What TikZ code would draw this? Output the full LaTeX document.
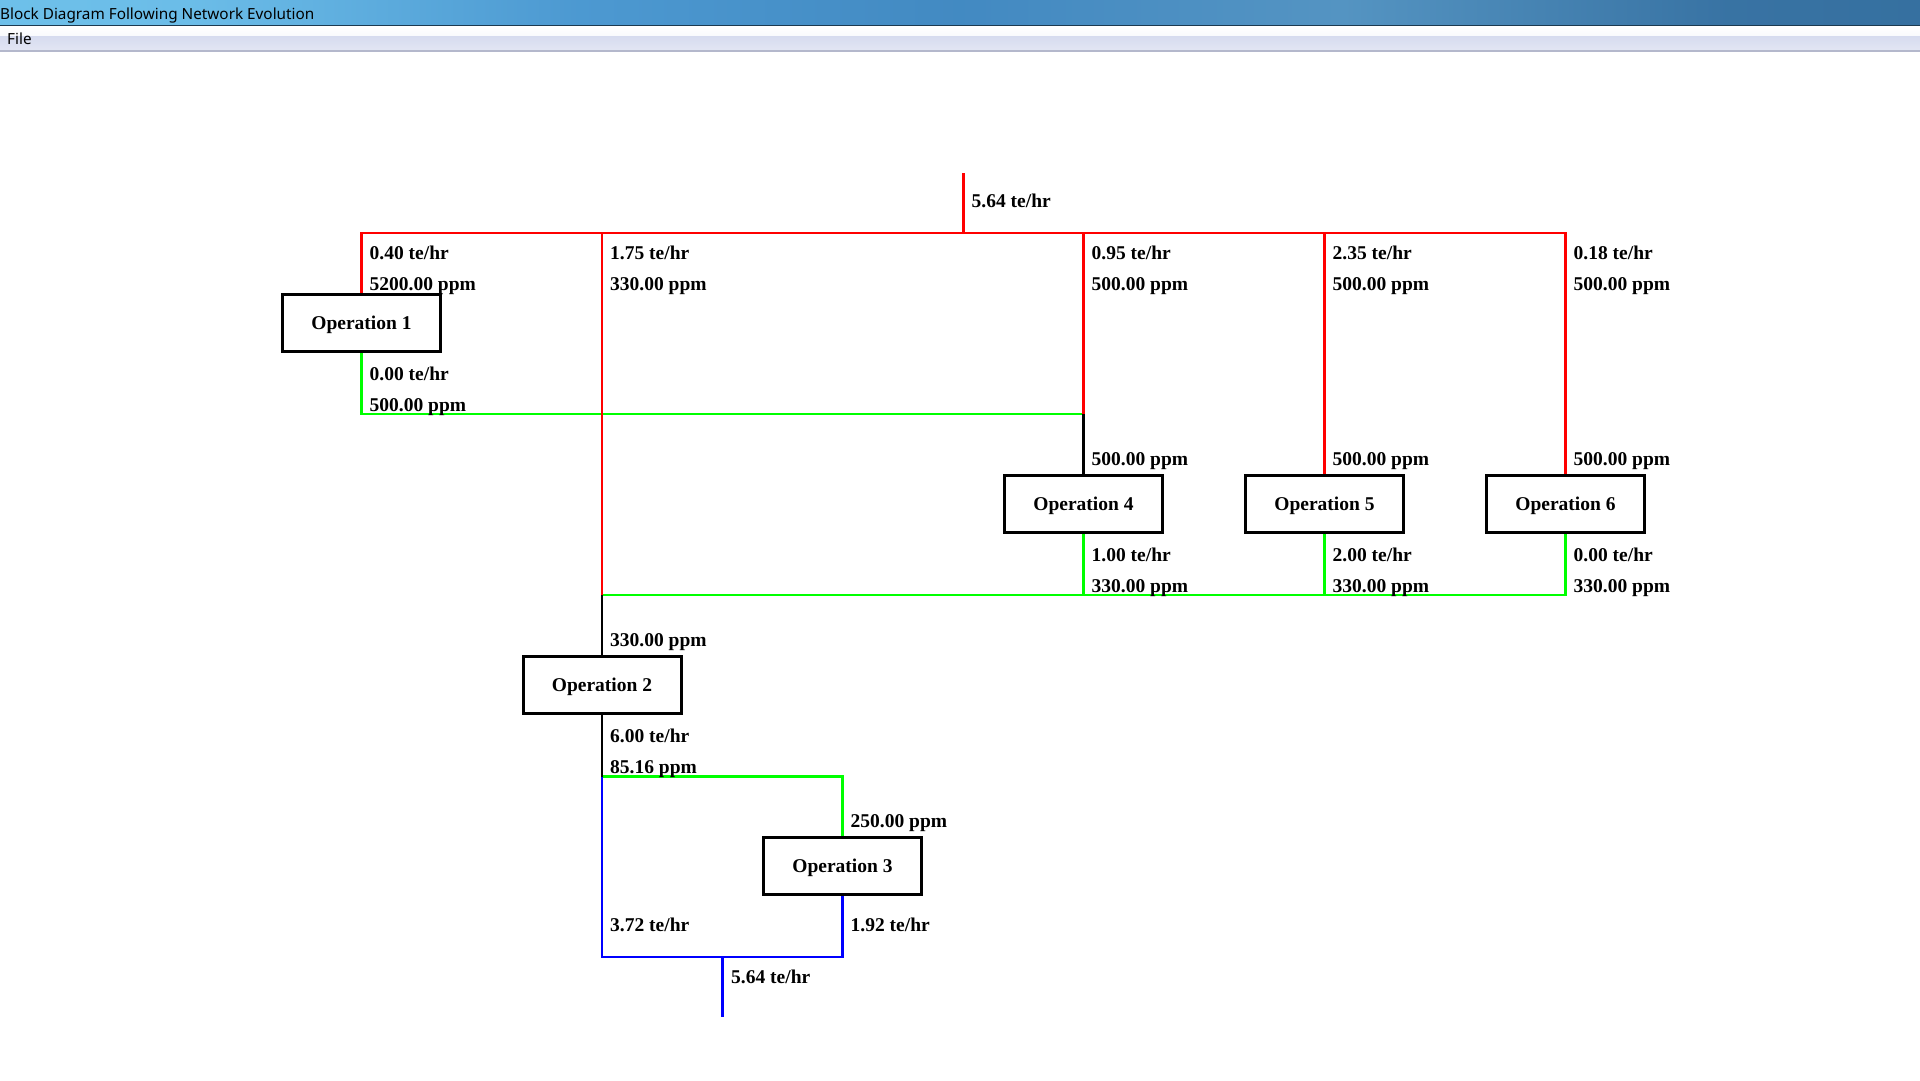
\documentclass[tikz,border=0pt]{standalone}
\usepackage{fontspec}
\setmainfont{Liberation Serif}
\newfontfamily\uifont{Noto Sans}
\pgfdeclarehorizontalshading{titlebar}{100bp}{%
  rgb(0bp)=(0.55,0.80,0.94);
  rgb(15bp)=(0.45,0.78,0.93);
  rgb(30bp)=(0.42,0.74,0.91);
  rgb(40bp)=(0.30,0.60,0.82);
  rgb(50bp)=(0.26,0.54,0.76);
  rgb(60bp)=(0.33,0.58,0.76);
  rgb(70bp)=(0.22,0.45,0.64);
  rgb(85bp)=(0.19,0.42,0.60);
  rgb(93bp)=(0.30,0.50,0.66);
  rgb(100bp)=(0.62,0.76,0.86)}
\definecolor{pgreen}{RGB}{0,255,0}
\definecolor{pred}{RGB}{255,0,0}
\definecolor{pblue}{RGB}{0,0,255}
\definecolor{menulav}{RGB}{214,219,239}
\definecolor{menuline}{RGB}{180,184,204}
\definecolor{titleline}{RGB}{28,58,80}
\begin{document}
\begin{tikzpicture}[x=1pt,y=-1pt,
  opbox/.style={draw=black,line width=3pt,fill=white,minimum width=158pt,minimum height=57pt,inner sep=0pt,text height=13pt,text depth=0pt,font=\fontsize{19.5}{22}\selectfont\bfseries},
  lbl/.style={anchor=base west,inner sep=0pt,font=\fontsize{19.5}{22}\selectfont\bfseries},
  wire/.style={line width=2.5pt,line join=miter},
  redw/.style={wire,draw=pred},
  greenw/.style={wire,draw=pgreen},
  bluew/.style={wire,draw=pblue},
  blackw/.style={wire,draw=black}]
\useasboundingbox (0,0) rectangle (1920,1080);
\fill[white] (0,0) rectangle (1920,1080);
% window chrome
\shade[shading=titlebar] (0,0) rectangle (1920,25);
\fill[titleline] (0,25) rectangle (1920,26.5);
\shade[top color=white,bottom color=white!85!menulav] (0,26.5) rectangle (1920,36);
\shade[top color=menulav,bottom color=menulav!70!white] (0,36) rectangle (1920,50);
\fill[menuline] (0,50) rectangle (1920,51.5);
\node[anchor=base west,inner sep=0pt,font=\uifont\fontsize{15.3}{18}\selectfont] (title) at (0,19) {Block Diagram Following Network Evolution};
\node[anchor=base west,inner sep=0pt,font=\uifont\fontsize{15.3}{18}\selectfont] (file) at (7,44.5) {File};

% operations
\node[opbox] (op1) at (361.5,323) {Operation 1};
\node[opbox] (op2) at (602,685) {Operation 2};
\node[opbox] (op3) at (842.5,866) {Operation 3};
\node[opbox] (op4) at (1083.5,504) {Operation 4};
\node[opbox] (op5) at (1324.5,504) {Operation 5};
\node[opbox] (op6) at (1565.5,504) {Operation 6};

% junction coordinates
\coordinate (src) at (963.5,173);
\coordinate (srcj) at (963.5,233);
\coordinate (h1) at (361.5,233);
\coordinate (h2) at (602,233);
\coordinate (h4) at (1083.5,233);
\coordinate (h5) at (1324.5,233);
\coordinate (h6) at (1565.5,233);
\coordinate (g1a) at (361.5,414);
\coordinate (g1e) at (1083.5,414);
\coordinate (g2b) at (602,595);
\coordinate (g24) at (1083.5,595);
\coordinate (g25) at (1324.5,595);
\coordinate (g2e) at (1565.5,595);
\coordinate (g3a) at (602,776.5);
\coordinate (g3b) at (842.5,776.5);
\coordinate (b1) at (602,957);
\coordinate (b2) at (842.5,957);
\coordinate (bj) at (722.5,957);
\coordinate (out) at (722.5,1017);

% green streams
\draw[greenw] (op1.south) -- (g1a) -- (g1e);
\draw[greenw] (op4.south) -- (g24);
\draw[greenw] (op5.south) -- (g25);
\draw[greenw] (op6.south) -- (g2e) -- (g2b);
\draw[greenw] (g3a) -- (g3b) -- (op3.north);
% red streams
\draw[redw] (src) -- (srcj);
\draw[redw] (op1.north) -- (h1) -- (h6) -- (op6.north);
\draw[redw] (h2) -- (g2b);
\draw[redw] (h4) -- (g1e);
\draw[redw] (h5) -- (op5.north);
% black streams
\draw[blackw] (g1e) -- (op4.north);
\draw[blackw] (g2b) -- (op2.north);
\draw[blackw] (op2.south) -- (g3a);
% blue streams
\draw[bluew] (g3a) -- (b1) -- (b2) -- (op3.south);
\draw[bluew] (bj) -- (out);

% labels
\node[lbl] (lsrc) at (971.5,207) {5.64 te/hr};
\node[lbl] (l1a) at (369.5,259) {0.40 te/hr};
\node[lbl] (l1b) at (369.5,290) {5200.00 ppm};
\node[lbl] (l2a) at (610,259) {1.75 te/hr};
\node[lbl] (l2b) at (610,290) {330.00 ppm};
\node[lbl] (l4a) at (1091.5,259) {0.95 te/hr};
\node[lbl] (l4b) at (1091.5,290) {500.00 ppm};
\node[lbl] (l5a) at (1332.5,259) {2.35 te/hr};
\node[lbl] (l5b) at (1332.5,290) {500.00 ppm};
\node[lbl] (l6a) at (1573.5,259) {0.18 te/hr};
\node[lbl] (l6b) at (1573.5,290) {500.00 ppm};
\node[lbl] (o1a) at (369.5,380) {0.00 te/hr};
\node[lbl] (o1b) at (369.5,411) {500.00 ppm};
\node[lbl] (i4) at (1091.5,465) {500.00 ppm};
\node[lbl] (i5) at (1332.5,465) {500.00 ppm};
\node[lbl] (i6) at (1573.5,465) {500.00 ppm};
\node[lbl] (o4a) at (1091.5,561) {1.00 te/hr};
\node[lbl] (o4b) at (1091.5,592) {330.00 ppm};
\node[lbl] (o5a) at (1332.5,561) {2.00 te/hr};
\node[lbl] (o5b) at (1332.5,592) {330.00 ppm};
\node[lbl] (o6a) at (1573.5,561) {0.00 te/hr};
\node[lbl] (o6b) at (1573.5,592) {330.00 ppm};
\node[lbl] (i2) at (610,646) {330.00 ppm};
\node[lbl] (o2a) at (610,742) {6.00 te/hr};
\node[lbl] (o2b) at (610,773) {85.16 ppm};
\node[lbl] (i3) at (850.5,827) {250.00 ppm};
\node[lbl] (b1l) at (610,931) {3.72 te/hr};
\node[lbl] (b2l) at (850.5,931) {1.92 te/hr};
\node[lbl] (outl) at (731,983) {5.64 te/hr};
\end{tikzpicture}
\end{document}
